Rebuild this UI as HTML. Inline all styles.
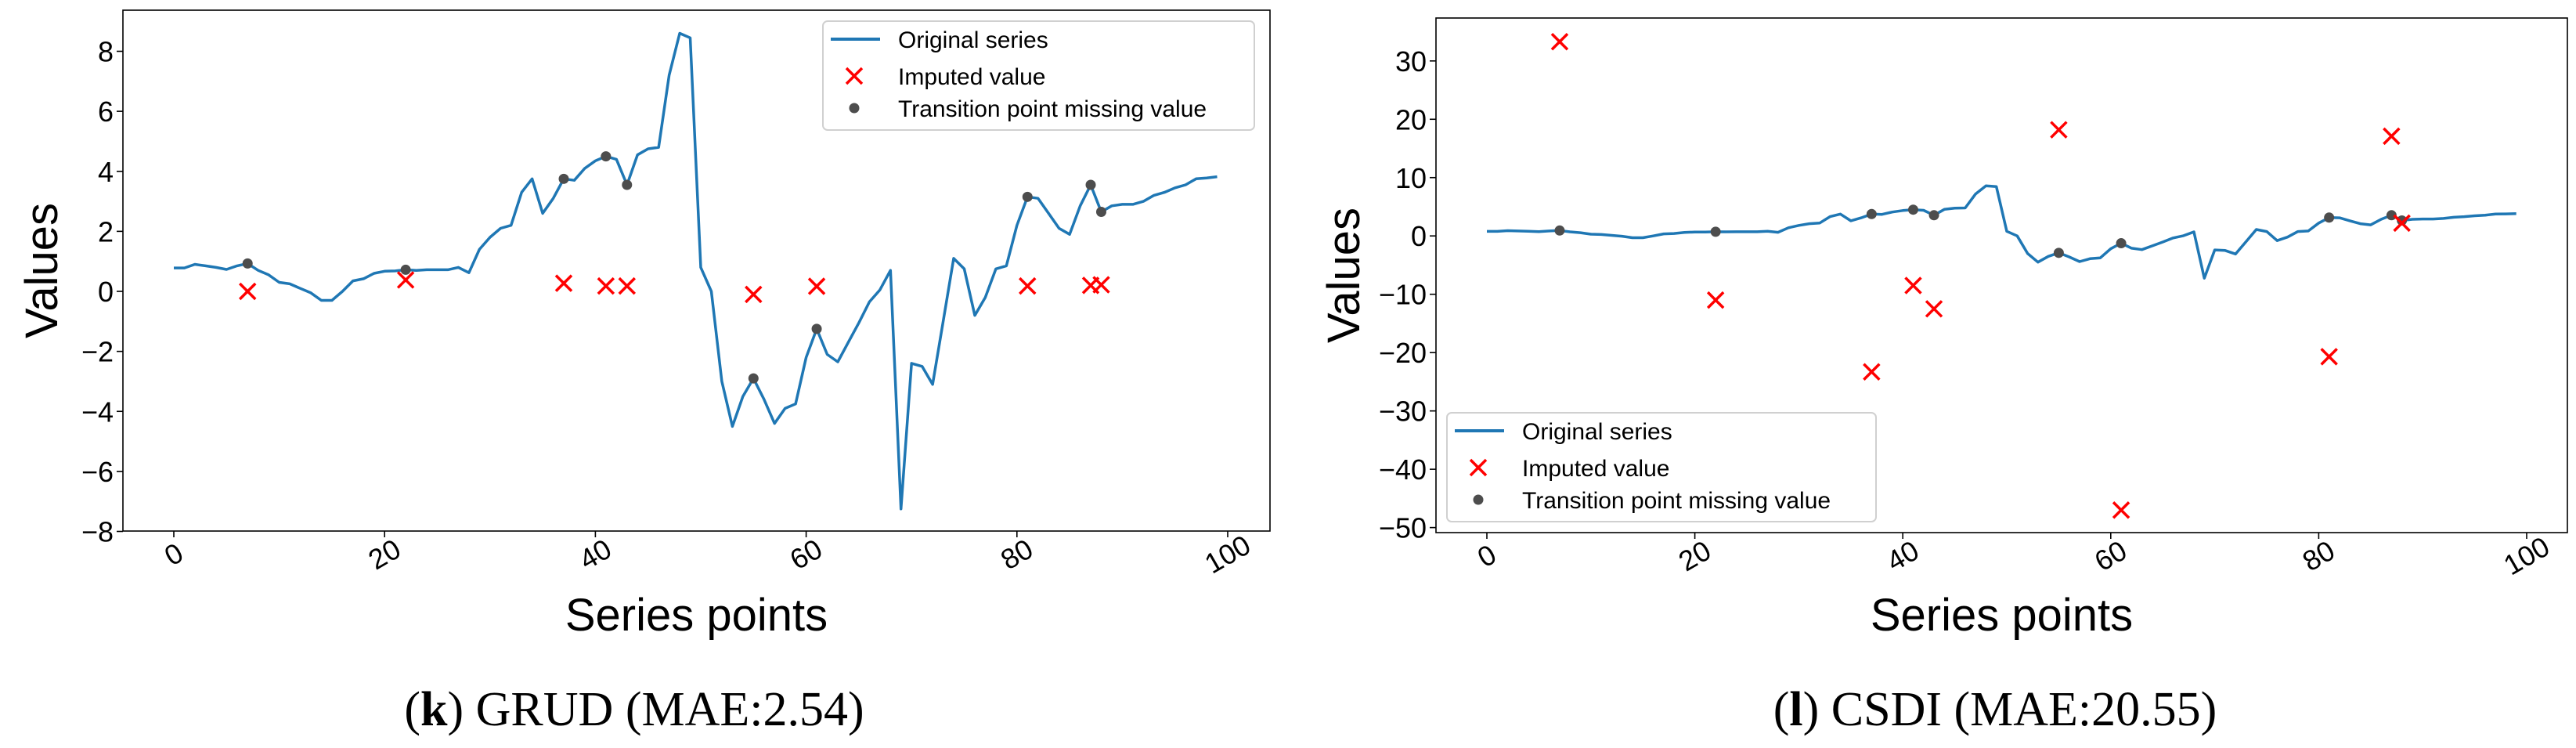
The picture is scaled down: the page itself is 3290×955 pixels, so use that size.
<!DOCTYPE html>
<html><head><meta charset="utf-8">
<style>
html,body{margin:0;padding:0;background:#fff;}
svg{display:block;font-family:"Liberation Sans",sans-serif;}
</style></head>
<body>
<svg id="fig" width="3290" height="955" viewBox="0 0 3290 955" xmlns="http://www.w3.org/2000/svg">
<text x="810" y="926" font-family="Liberation Serif,serif" font-size="62" text-anchor="middle">(<tspan font-weight="bold">k</tspan>) GRUD (MAE:2.54)</text>
<text x="2548" y="926" font-family="Liberation Serif,serif" font-size="62" text-anchor="middle">(<tspan font-weight="bold">l</tspan>) CSDI (MAE:20.55)</text>
</svg>
<script>
const seriesValues = [0.78,0.78,0.9,0.85,0.8,0.73,0.85,0.93,0.7,0.55,0.3,0.25,0.1,-0.05,-0.3,-0.3,0.0,0.35,0.42,0.6,0.67,0.68,0.72,0.7,0.72,0.72,0.72,0.8,0.62,1.4,1.8,2.1,2.2,3.3,3.75,2.6,3.1,3.75,3.7,4.1,4.35,4.5,4.4,3.55,4.55,4.75,4.8,7.2,8.6,8.45,0.8,0.0,-3.0,-4.5,-3.5,-2.9,-3.6,-4.4,-3.9,-3.75,-2.2,-1.25,-2.1,-2.35,-1.7,-1.05,-0.35,0.05,0.7,-7.25,-2.4,-2.5,-3.1,-1.0,1.1,0.75,-0.8,-0.2,0.75,0.85,2.2,3.15,3.1,2.6,2.1,1.9,2.85,3.55,2.65,2.85,2.9,2.9,3.0,3.2,3.3,3.45,3.55,3.75,3.78,3.82];
const missingIdx = [7,22,37,41,43,55,61,81,87,88];
const grudImputed = [0,0.38,0.27,0.18,0.18,-0.1,0.17,0.18,0.2,0.22];
const csdiImputed = [33.3,-11,-23.3,-8.5,-12.5,18.2,-47,-20.7,17.1,2.2];
const xTicks = [0,20,40,60,80,100];
const grudYTicks = [-8,-6,-4,-2,0,2,4,6,8];
const csdiYTicks = [-50,-40,-30,-20,-10,0,10,20,30];
const legendLabels = ["Original series","Imputed value","Transition point missing value"];

const NS="http://www.w3.org/2000/svg";
const svg=document.getElementById('fig');
function el(tag,attrs,parent){const e=document.createElementNS(NS,tag);for(const k in attrs)e.setAttribute(k,attrs[k]);(parent||svg).appendChild(e);return e;}
function fmt(v){return v<0?'\u2212'+Math.abs(v):String(v);}

function panel(cfg){
  const g=el('g',{});
  
  
  const X=v=>cfg.x0+(v-0)*(cfg.x100-cfg.x0)/100;
  const Y=v=>cfg.ya+(v-cfg.va)*(cfg.yb-cfg.ya)/(cfg.vb-cfg.va);
  const box=el('rect',{x:cfg.L,y:cfg.T,width:cfg.R-cfg.L,height:cfg.B-cfg.T,fill:'none',stroke:'#000','stroke-width':1.6},g);
  
  
  xTicks.forEach(t=>{
    const x=X(t);
    const tk=el('line',{x1:x,y1:cfg.B,x2:x,y2:cfg.B+8,stroke:'#000','stroke-width':1.6},g);
    
    
    const tx=el('text',{x:0,y:12,'font-size':36,'text-anchor':'middle',transform:`translate(${x},${cfg.B+30}) rotate(-30)`},g);
    tx.textContent=t;
    
    
  });
  cfg.yTicks.forEach(t=>{
    const y=Y(t);
    const tk=el('line',{x1:cfg.L-8,y1:y,x2:cfg.L,y2:y,stroke:'#000','stroke-width':1.6},g);
    
    
    const tx=el('text',{x:cfg.L-12,y:y+13,'font-size':36,'text-anchor':'end'},g);
    tx.textContent=fmt(t);
    
    
  });
  const xl=el('text',{x:(cfg.L+cfg.R)/2,y:805,'font-size':58,'text-anchor':'middle'},g);
  xl.textContent='Series points';
  
  
  const yl=el('text',{x:0,y:0,'font-size':58,'text-anchor':'middle',transform:`translate(${cfg.ylx},${(cfg.T+cfg.B)/2}) rotate(-90)`},g);
  yl.textContent='Values';
  
  
  const pts=seriesValues.map((v,i)=>X(i).toFixed(1)+','+Y(v).toFixed(1)).join(' ');
  const line=el('polyline',{points:pts,fill:'none',stroke:'#1f77b4','stroke-width':3.5,'stroke-linejoin':'round'},g);
  
  
  missingIdx.forEach((idx,k)=>{
    const c=el('circle',{cx:X(idx),cy:Y(seriesValues[idx]),r:6.5,fill:'#4d4d4d'},g);
    
    
  });
  missingIdx.forEach((idx,k)=>{
    const x=X(idx),y=Y(cfg.imputed[k]),s=10;
    const m=el('path',{d:`M${x-s},${y-s}L${x+s},${y+s}M${x-s},${y+s}L${x+s},${y-s}`,stroke:'#ff0000','stroke-width':3.5,fill:'none'},g);
    
    
  });
  const lg=el('g',{},g);
  
  
  const lb=cfg.leg;
  el('rect',{x:lb.x,y:lb.y,width:lb.w,height:lb.h,rx:6,fill:'#fff','fill-opacity':0.85,stroke:'#d0d0d0','stroke-width':2},lg);
  const rows=[lb.y+23,lb.y+70,lb.y+111];
  const sx=lb.x+40;
  const l1=el('line',{x1:lb.x+10,y1:rows[0],x2:lb.x+73,y2:rows[0],stroke:'#1f77b4','stroke-width':4},lg);
  
  
  const s=10,my=rows[1];
  const m2=el('path',{d:`M${sx-s},${my-s}L${sx+s},${my+s}M${sx-s},${my+s}L${sx+s},${my-s}`,stroke:'#ff0000','stroke-width':3.5},lg);
  
  
  const c3=el('circle',{cx:sx,cy:rows[2],r:6.5,fill:'#4d4d4d'},lg);
  
  
  legendLabels.forEach((t,i)=>{
    const tx=el('text',{x:lb.x+96,y:rows[i]+11,'font-size':30},lg);
    tx.textContent=t;
    
    
  });
}

panel({name:'grud-chart',L:157,R:1622,T:13,B:678,x0:222,x100:1568,ya:65.5,va:8,yb:678.5,vb:-8,yTicks:grudYTicks,imputed:grudImputed,ylx:73,leg:{x:1051,y:27,w:551,h:139}});
panel({name:'csdi-chart',L:1834,R:3279,T:23,B:680,x0:1899,x100:3227,ya:77.8,va:30,yb:673.6,vb:-50,yTicks:csdiYTicks,imputed:csdiImputed,ylx:1736,leg:{x:1848,y:527,w:548,h:139}});
</script>
</body></html>
